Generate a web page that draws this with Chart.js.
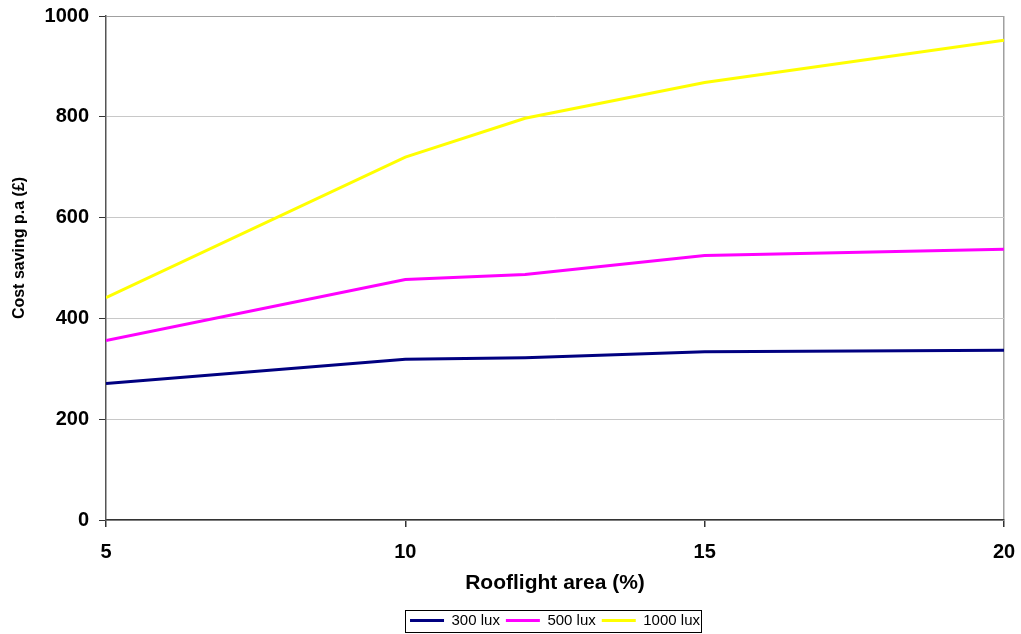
<!DOCTYPE html>
<html>
<head>
<meta charset="utf-8">
<script src="https://cdn.jsdelivr.net/npm/chart.js@4.4.0/dist/chart.umd.min.js"></script>
<style>
html,body{margin:0;padding:0;background:#fff;}
#wrap{width:1021px;height:634px;}
</style>
</head>
<body>
<div id="wrap"><canvas id="c" width="1021" height="634"></canvas></div>
<script>
const rooflightArea = [5, 10, 12, 15, 20];
const lux300 = [271, 319, 322, 334, 337];
const lux500 = [356, 477, 487, 525, 537];
const lux1000 = [441, 720, 797, 868, 952];
const seriesNames = ['300 lux', '500 lux', '1000 lux'];
const seriesColors = ['#000080', '#ff00ff', '#ffff00'];
const xTicks = [5, 10, 15, 20];
const yTicks = [0, 200, 400, 600, 800, 1000];

const FONT = '"Liberation Sans", Arial, sans-serif';
const toPts = ys => rooflightArea.map((x, i) => ({x: x, y: ys[i]}));

const legendBox = {
  id: 'legendBox',
  afterDraw(chart) {
    const lg = chart.legend;
    if (!lg || !lg.legendHitBoxes || !lg.legendHitBoxes.length) return;
    const hb = lg.legendHitBoxes;
    let l = Infinity, r = -Infinity, cy = 0;
    hb.forEach(h => { l = Math.min(l, h.left); r = Math.max(r, h.left + h.width); cy = h.top + h.height / 2; });
    const ctx = chart.ctx;
    ctx.save();
    ctx.strokeStyle = '#000';
    ctx.lineWidth = 1;
    const L = Math.round(l - 5) + 0.5, R = Math.round(r + 1) + 0.5;
    const T = Math.round(cy - 11) + 0.5, B = Math.round(cy + 11) + 0.5;
    ctx.strokeRect(L, T, R - L, B - T);
    ctx.restore();
  }
};

new Chart(document.getElementById('c'), {
  type: 'line',
  data: {
    datasets: [
      {label: seriesNames[0], data: toPts(lux300), borderColor: seriesColors[0], backgroundColor: seriesColors[0]},
      {label: seriesNames[1], data: toPts(lux500), borderColor: seriesColors[1], backgroundColor: seriesColors[1]},
      {label: seriesNames[2], data: toPts(lux1000), borderColor: seriesColors[2], backgroundColor: seriesColors[2]}
    ].map(d => Object.assign(d, {borderWidth: 3, pointRadius: 0, tension: 0, fill: false}))
  },
  options: {
    responsive: false,
    animation: false,
    devicePixelRatio: 1,
    layout: {padding: {top: 16, right: 17, left: 6, bottom: -4}},
    plugins: {
      tooltip: {enabled: false},
      legend: {
        position: 'bottom',
        fullSize: false,
        labels: {
          font: {family: FONT, size: 15},
          color: '#000',
          boxWidth: 34,
          boxHeight: 0,
          padding: 6
        }
      }
    },
    scales: {
      x: {
        type: 'linear',
        min: 5, max: 20,
        afterBuildTicks: s => { s.ticks = xTicks.map(v => ({value: v})); },
        afterFit: s => { s.height = 87; s.paddingLeft = 0; s.paddingRight = 0; },
        border: {color: '#333', width: 1.5},
        grid: {
          color: c => (c.tick && c.tick.value === 20) ? '#a0a0a0' : 'rgba(0,0,0,0)',
          tickColor: '#333',
          tickLength: 7,
          lineWidth: 1.5
        },
        ticks: {font: {family: FONT, size: 20, weight: 'bold'}, color: '#000', padding: 13, maxRotation: 0, callback: v => String(v)},
        title: {display: true, text: 'Rooflight area (%)', font: {family: FONT, size: 21, weight: 'bold'}, color: '#000', padding: {top: 4, bottom: 11}}
      },
      y: {
        min: 0, max: 1000,
        afterBuildTicks: s => { s.ticks = yTicks.map(v => ({value: v})); },
        afterFit: s => { s.width = 100; s.paddingTop = 0; s.paddingBottom = 0; },
        border: {color: '#555', width: 1.5},
        grid: {
          color: c => (c.tick && c.tick.value === 1000) ? '#a0a0a0' : '#c8c8c8',
          tickColor: '#333',
          tickLength: 7,
          lineWidth: 1
        },
        ticks: {font: {family: FONT, size: 20, weight: 'bold'}, color: '#000', padding: 10, callback: v => String(v)},
        title: {display: true, text: '\u00a0'.repeat(9) + 'Cost saving p.a (£)', font: {family: FONT, size: 16, weight: 'bold'}, color: '#000', padding: {bottom: 2}}
      }
    }
  },
  plugins: [legendBox]
});
</script>
</body>
</html>
